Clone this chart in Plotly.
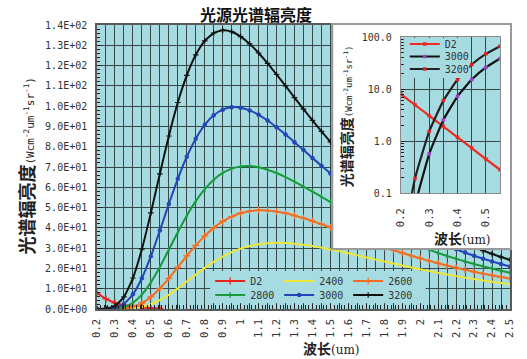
import plotly.graph_objects as go

# ---------------- data ----------------
# wavelength samples (um)
wavelength = [0.20, 0.25, 0.30, 0.35, 0.40, 0.45, 0.50, 0.55, 0.60, 0.65,
              0.70, 0.75, 0.80, 0.85, 0.90, 0.95, 1.00, 1.05, 1.10, 1.15,
              1.20, 1.25, 1.30, 1.35, 1.40, 1.45, 1.50, 1.55, 1.60, 1.65,
              1.70, 1.75, 1.80, 1.85, 1.90, 1.95, 2.00, 2.05, 2.10, 2.15,
              2.20, 2.25, 2.30, 2.35, 2.40, 2.45, 2.50]

# deuterium lamp, UV part only
d2_wavelength = [0.20, 0.25, 0.30, 0.35, 0.40, 0.45, 0.50, 0.55]
d2 = [8.0, 4.96, 3.07, 1.90, 1.18, 0.73, 0.45, 0.28]

# spectral radiance (W cm^-2 um^-1 sr^-1) of the lamp at each colour temperature
t2400 = [0.0, 0.0, 0.01, 0.083, 0.36, 1.06, 2.37, 4.37, 7.01, 10.14,
         13.52, 16.96, 20.24, 23.24, 25.85, 28.02, 29.75, 31.03, 31.91, 32.42,
         32.60, 32.52, 32.19, 31.68, 31.02, 30.23, 29.36, 28.42, 27.44, 26.44,
         25.41, 24.39, 23.38, 22.39, 21.42, 20.47, 19.55, 18.67, 17.81, 16.99,
         16.21, 15.46, 14.74, 14.06, 13.41, 12.78, 12.19]
t2600 = [0.0, 0.003, 0.048, 0.31, 1.14, 2.95, 5.95, 10.10, 15.12, 20.61,
         26.14, 31.37, 36.04, 40.00, 43.18, 45.58, 47.24, 48.23, 48.64, 48.54,
         48.03, 47.20, 46.10, 44.80, 43.36, 41.81, 40.20, 38.56, 36.91, 35.27,
         33.65, 32.07, 30.55, 29.06, 27.64, 26.27, 24.96, 23.72, 22.53, 21.40,
         20.32, 19.30, 18.34, 17.43, 16.56, 15.74, 14.97]
t2800 = [0.0003, 0.014, 0.18, 0.95, 3.07, 7.09, 13.12, 20.72, 29.23, 37.87,
         45.99, 53.15, 59.09, 63.73, 67.07, 69.20, 70.28, 70.44, 69.86, 68.68,
         67.03, 65.04, 62.80, 60.38, 57.87, 55.30, 52.73, 50.18, 47.68, 45.26,
         42.91, 40.66, 38.50, 36.44, 34.49, 32.63, 30.87, 29.21, 27.63, 26.15,
         24.75, 23.43, 22.18, 21.03, 19.92, 18.88, 17.91]
t3000 = [0.0015, 0.057, 0.56, 2.53, 7.22, 15.18, 26.02, 38.65, 51.74, 64.16,
         75.05, 83.98, 90.77, 95.48, 98.28, 99.45, 99.23, 97.91, 95.72, 92.90,
         89.60, 86.01, 82.22, 78.34, 74.45, 70.60, 66.83, 63.18, 59.67, 56.30,
         53.10, 50.05, 47.18, 44.46, 41.90, 39.48, 37.22, 35.09, 33.08, 31.21,
         29.45, 27.80, 26.26, 24.82, 23.46, 22.18, 20.99]
t3200 = [0.0064, 0.19, 1.52, 5.98, 15.27, 29.55, 47.39, 66.66, 85.29, 101.8,
         115.2, 125.3, 132.2, 136.05, 137.4, 136.7, 134.3, 130.7, 126.2, 121.1,
         115.6, 110.0, 104.2, 98.54, 92.97, 87.57, 82.39, 77.45, 72.74, 68.30,
         64.12, 60.18, 56.49, 53.03, 49.80, 46.77, 43.94, 41.31, 38.83, 36.54,
         34.39, 32.39, 30.51, 28.78, 27.15, 25.62, 24.20]

# y tick values of the main chart, labelled in E notation
y_ticks = list(range(0, 141, 10))
y_ticktext = [f"{v:.1E}" for v in y_ticks]

# the inset zooms into the UV end of the spectrum
n_uv = len(d2_wavelength)
uv_wavelength = wavelength[:n_uv]

# ---------------- layout geometry ----------------
W, H = 527, 359
L, R, T, B = 97, 14, 25, 50
PW, PH = W - L - R, H - T - B


def fx(px):
    return (px - L) / PW


def fy(py):
    return (H - B - py) / PH


MONO = "DejaVu Sans Mono"
CJK = "Noto Sans CJK SC"
BG = "#a6dce1"
GRID = "#384848"
TICKC = "#333333"

fig = go.Figure()

# ---------------- main chart ----------------
main_series = [
    ("D2", d2_wavelength, d2, "#e8231e",
     dict(symbol="cross-thin", size=5, line=dict(width=1.3, color="#e8231e")), "legend"),
    ("2400", wavelength, t2400, "#eee636", None, "legend"),
    ("2600", wavelength, t2600, "#f46c20",
     dict(symbol="cross-thin", size=5, line=dict(width=1.3, color="#f46c20")), "legend"),
    ("2800", wavelength, t2800, "#17993c",
     dict(symbol="line-ns", size=4, line=dict(width=1.3, color="#17993c")), "legend2"),
    ("3000", wavelength, t3000, "#2446b6",
     dict(symbol="circle", size=4.5, color="#2446b6"), "legend2"),
    ("3200", wavelength, t3200, "#111111",
     dict(symbol="cross-thin", size=4, line=dict(width=1.2, color="#111111")), "legend2"),
]
for name, xs, ys, color, marker, leg in main_series:
    fig.add_trace(go.Scatter(
        x=xs, y=ys, name=name, legend=leg,
        mode="lines+markers" if marker else "lines",
        line=dict(color=color, width=2, shape="spline", smoothing=0.5),
        marker=marker, xaxis="x", yaxis="y", hoverinfo="skip"))

# empty subplot that carries the white inset panel
fig.add_trace(go.Scatter(x=[], y=[], xaxis="x2", yaxis="y2",
                         showlegend=False, hoverinfo="skip"))

# ---------------- inset (log scale, UV end) ----------------
inset_series = [
    ("D2", d2_wavelength, d2, "#ee2a22", "#ee2a22", "legend3"),
    ("3000", uv_wavelength, t3000[:n_uv], "#111111", "#a040c8", "legend4"),
    ("3200", uv_wavelength, t3200[:n_uv], "#222222", "#e02020", "legend5"),
]
for name, xs, ys, color, mcolor, leg in inset_series:
    fig.add_trace(go.Scatter(
        x=xs, y=ys, name=name, legend=leg, mode="lines+markers",
        line=dict(color=color, width=2.2, shape="spline", smoothing=0.4),
        marker=dict(symbol="square", size=3.5, color=mcolor),
        xaxis="x3", yaxis="y3", hoverinfo="skip"))

axis_font = dict(family=MONO, size=10, color=TICKC)
xtick_font = dict(family=MONO, size=10.5, color=TICKC)

fig.update_layout(
    width=W, height=H,
    margin=dict(l=L, r=R, t=T, b=B, pad=0),
    paper_bgcolor="white", plot_bgcolor=BG,
    showlegend=True,
    xaxis=dict(domain=[0, 1], anchor="y", range=[0.2, 2.5],
               tick0=0.2, dtick=0.05, ticklabelstep=2, tickformat=".2~f",
               tickangle=-90, ticks="inside", ticklen=5, tickcolor="#222",
               tickfont=xtick_font, ticklabelstandoff=4,
               showgrid=True, gridcolor=GRID, gridwidth=1, zeroline=False,
               showline=True, mirror=True, linecolor="#5a5a5a", linewidth=1.5,
               minor=dict(dtick=0.02, tick0=0.2, ticks="inside", ticklen=4,
                          tickcolor="#222", showgrid=False)),
    yaxis=dict(domain=[0, 1], anchor="x", range=[0, 140],
               tickmode="array", tickvals=y_ticks, ticktext=y_ticktext,
               ticks="inside", ticklen=5, tickcolor="#222",
               tickfont=axis_font, ticklabelstandoff=6,
               showgrid=True, gridcolor=GRID, gridwidth=1, zeroline=False,
               showline=True, mirror=True, linecolor="#5a5a5a", linewidth=1.5,
               minor=dict(dtick=2, ticks="inside", ticklen=3,
                          tickcolor="#222", showgrid=False)),
    # white inset panel
    xaxis2=dict(domain=[fx(335), 1], anchor="y2", range=[0, 1],
                showgrid=False, zeroline=False, showticklabels=False, ticks="",
                showline=True, mirror=True, linecolor="#9a9a9a", linewidth=1.5),
    yaxis2=dict(domain=[fy(248), 1], anchor="x2", range=[0, 1],
                showgrid=False, zeroline=False, showticklabels=False, ticks="",
                showline=True, mirror=True, linecolor="#9a9a9a", linewidth=1.5),
    # inset plot area
    xaxis3=dict(domain=[fx(403), fx(503)], anchor="y3", range=[0.2, 0.55],
                tick0=0.2, dtick=0.05, ticklabelstep=2, tickformat=".1f",
                tickangle=-90, ticks="", tickfont=xtick_font,
                ticklabelstandoff=10,
                showgrid=True, gridcolor=GRID, gridwidth=1, zeroline=False,
                showline=True, mirror=True, linecolor="#8a8a8a", linewidth=1),
    yaxis3=dict(domain=[fy(193), fy(37)], anchor="x3", type="log",
                range=[-1, 2], dtick=1, tickformat=".1f",
                ticks="inside", ticklen=4, tickcolor="#222",
                tickfont=axis_font, ticklabelstandoff=6,
                showgrid=True, gridcolor=GRID, gridwidth=1, zeroline=False,
                showline=True, mirror=True, linecolor="#8a8a8a", linewidth=1,
                minor=dict(dtick="D1", ticks="inside", ticklen=3,
                           tickcolor="#222", showgrid=False)),
)

legend_common = dict(orientation="h", xanchor="left", yanchor="middle",
                     bgcolor="rgba(0,0,0,0)", borderwidth=0,
                     itemwidth=30, entrywidth=24, entrywidthmode="pixels",
                     font=dict(family=MONO, size=10, color=TICKC))
fig.update_layout(
    legend=dict(x=fx(211), y=fy(281), **legend_common),
    legend2=dict(x=fx(211), y=fy(295), **legend_common),
    legend3=dict(x=fx(407), y=fy(44), **legend_common),
    legend4=dict(x=fx(407), y=fy(56.5), **legend_common),
    legend5=dict(x=fx(407), y=fy(69), **legend_common),
)

fig.update_layout(shapes=[
    # white inset panel (drawn inside the panel subplot, above the main curves)
    dict(type="rect", xref="x2", yref="y2", x0=0, x1=1, y0=0, y1=1,
         layer="below", fillcolor="white", line=dict(width=0)),
    # cyan plotting area of the inset
    dict(type="rect", xref="x3", yref="y3", x0=0.2, x1=0.55, y0=0.1, y1=100,
         layer="below", fillcolor=BG, line=dict(width=0)),
    # legend backgrounds
    dict(type="rect", xref="paper", yref="paper", x0=fx(211), x1=fx(428),
         y0=fy(303), y1=fy(271), layer="above", fillcolor=BG, line=dict(width=0)),
    dict(type="rect", xref="paper", yref="paper", x0=fx(406), x1=fx(472),
         y0=fy(78), y1=fy(38), layer="above", fillcolor=BG, line=dict(width=0)),
])

unit_span = "<span style='font-family:{f};font-size:{s}px;font-weight:normal'>" \
            "(Wcm<sup>-2</sup>um<sup>-1</sup>sr<sup>-1</sup>)</span>"

fig.update_layout(annotations=[
    dict(text="<b>光源光谱辐亮度</b>", xref="paper", yref="paper",
         x=fx(257), y=fy(14), xanchor="center", yanchor="middle",
         showarrow=False, font=dict(family=CJK, size=16, color="#111")),
    dict(text="<b>光谱辐亮度</b>" + unit_span.format(f=MONO, s=11),
         xref="paper", yref="paper", x=fx(25), y=fy(166),
         xanchor="center", yanchor="middle", textangle=-90, showarrow=False,
         borderpad=0, font=dict(family=CJK, size=18, color="#222")),
    dict(text="<b>波长</b><span style='font-family:DejaVu Serif;font-size:12px;"
              "font-weight:normal'>(um)</span>",
         xref="paper", yref="paper", x=fx(333), y=fy(348),
         xanchor="center", yanchor="middle", showarrow=False,
         borderpad=0, font=dict(family=CJK, size=14, color="#222")),
    dict(text="<b>波长</b><span style='font-family:DejaVu Serif;font-size:12px;"
              "font-weight:normal'>(um)</span>",
         xref="paper", yref="paper", x=fx(465), y=fy(238),
         xanchor="center", yanchor="middle", showarrow=False,
         borderpad=0, font=dict(family=CJK, size=14, color="#222")),
    dict(text="<b>光谱辐亮度</b>" + unit_span.format(f=MONO, s=9),
         xref="paper", yref="paper", x=fx(348), y=fy(116),
         xanchor="center", yanchor="middle", textangle=-90, showarrow=False,
         borderpad=0, font=dict(family=CJK, size=14, color="#222")),
])

fig.write_html("out.html")
